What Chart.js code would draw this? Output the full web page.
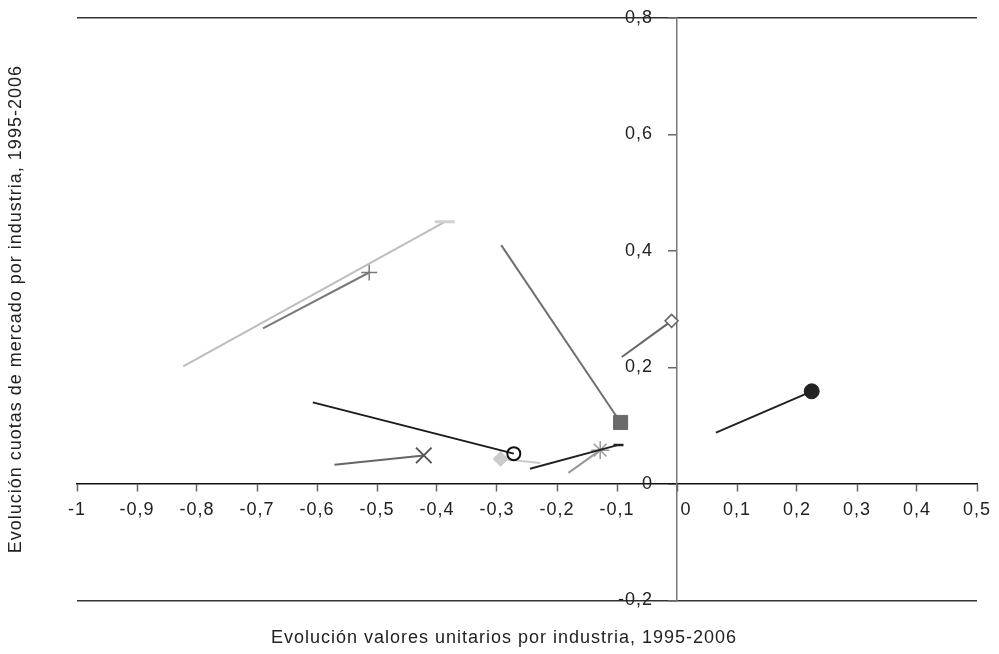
<!DOCTYPE html>
<html>
<head>
<meta charset="utf-8">
<script src="https://cdn.jsdelivr.net/npm/chart.js@4.4.1/dist/chart.umd.min.js"></script>
<style>
  html, body { margin: 0; padding: 0; background: #fff; }
</style>
</head>
<body>
<canvas id="chart" width="999" height="654"></canvas>
<script>
// each industry: a segment from its 1995 position to its 2006 position (marker at the end)
const startX = [-0.823, -0.690, -0.293, -0.092, 0.065, -0.607, -0.571, -0.228, -0.245, -0.181]
const startY = [0.202, 0.267, 0.410, 0.218, 0.088, 0.140, 0.033, 0.036, 0.026, 0.019]
const endX = [-0.387, -0.513, -0.094, -0.009, 0.2245, -0.272, -0.422, -0.294, -0.0975, -0.128]
const endY = [0.450, 0.363, 0.1055, 0.280, 0.159, 0.052, 0.049, 0.043, 0.067, 0.058]

const xTitle = 'Evolución valores unitarios por industria, 1995-2006'
const yTitle = 'Evolución cuotas de mercado por industria, 1995-2006'
const xRange = [-1, 0.5]
const yRange = [-0.2, 0.8]

// marker look for every segment, same order as the data
const looks = [
    {line: '#bdbdbd', style: 'line', fill: '#d0d0d0', border: '#d0d0d0', r: 10, bw: 3},
    {line: '#7a7a7a', style: 'cross', fill: '#7a7a7a', border: '#7a7a7a', r: 8, bw: 1.5},
    {line: '#707070', style: 'rect', fill: '#6a6a6a', border: '#6a6a6a', r: 10, bw: 1},
    {line: '#666666', style: 'rectRot', fill: '#ffffff', border: '#666666', r: 6.5, bw: 1.5},
    {line: '#222222', style: 'circle', fill: '#222222', border: '#222222', r: 7.5, bw: 1},
    {line: '#1a1a1a', style: 'circle', fill: 'rgba(255,255,255,0)', border: '#111111', r: 6.5, bw: 2},
    {line: '#666666', style: 'crossRot', fill: '#555555', border: '#555555', r: 11, bw: 2},
    {line: '#c8c8c8', style: 'rectRot', fill: '#cccccc', border: '#cccccc', r: 7.5, bw: 1},
    {line: '#222222', style: 'line', fill: '#222222', border: '#222222', r: 5, bw: 2.5},
    {line: '#999999', style: 'star', fill: '#999999', border: '#999999', r: 9, bw: 1.5}
]

const fmt = v => String(Math.round(v * 10) / 10).replace('.', ',')

const datasets = looks.map((look, i) => ({
    data: [{x: startX[i], y: startY[i]}, {x: endX[i], y: endY[i]}],
    showLine: true,
    borderColor: look.line,
    borderWidth: 2,
    pointStyle: look.style,
    pointRadius: [0, look.r],
    pointBackgroundColor: look.fill,
    pointBorderColor: look.border,
    pointBorderWidth: look.bw
}))

const spacing = {
    id: 'spacing',
    beforeDraw(chart) {
        chart.ctx.letterSpacing = '1px'
    }
}

// axes sit inside the plot, so they should not push the plot area around
const noPad = scale => {
    scale.paddingTop = 0
    scale.paddingBottom = 0
    scale.paddingLeft = 0
    scale.paddingRight = 0
}

Chart.defaults.font.family = '"Liberation Sans", Arial, sans-serif'
Chart.defaults.color = '#222'

new Chart('chart', {
    type: 'scatter',
    data: {datasets},
    options: {
        responsive: false,
        animation: false,
        layout: {padding: {left: 31, right: 22, top: 18, bottom: 0}},
        plugins: {
            legend: {display: false},
            tooltip: {enabled: false},
            title: {
                display: true,
                position: 'bottom',
                text: xTitle,
                font: {size: 18, weight: 'normal'},
                color: '#222',
                padding: {top: 27, bottom: 5}
            },
            subtitle: {
                display: true,
                position: 'left',
                fullSize: false,
                text: yTitle,
                font: {size: 18, weight: 'normal'},
                color: '#222',
                padding: {top: -25.8, bottom: 50.2}
            }
        },
        scales: {
            x: {
                type: 'linear',
                position: {y: 0},
                min: xRange[0],
                max: xRange[1],
                afterFit: noPad,
                border: {color: '#111', width: 1.5},
                grid: {drawOnChartArea: false, drawTicks: true, tickLength: 7, tickColor: '#666', tickWidth: 1.5},
                ticks: {
                    stepSize: 0.1,
                    padding: 8,
                    font: {size: 18},
                    maxRotation: 0,
                    autoSkip: false,
                    callback: v => Math.abs(v) < 1e-9 ? '   0' : fmt(v)
                }
            },
            y: {
                type: 'linear',
                position: {x: 0},
                min: yRange[0],
                max: yRange[1],
                afterFit: noPad,
                border: {color: '#777', width: 1.5},
                grid: {
                    drawOnChartArea: true,
                    tickLength: 8,
                    lineWidth: 1.5,
                    tickWidth: 1.5,
                    tickColor: '#666',
                    color: ctx => (ctx.tick && (Math.abs(ctx.tick.value - 0.8) < 1e-6 || Math.abs(ctx.tick.value + 0.2) < 1e-6)) ? '#333' : 'rgba(0,0,0,0)'
                },
                ticks: {
                    stepSize: 0.2,
                    padding: 15,
                    font: {size: 18},
                    callback: v => fmt(v) + '    '
                }
            }
        }
    },
    plugins: [spacing]
})
</script>
</body>
</html>
